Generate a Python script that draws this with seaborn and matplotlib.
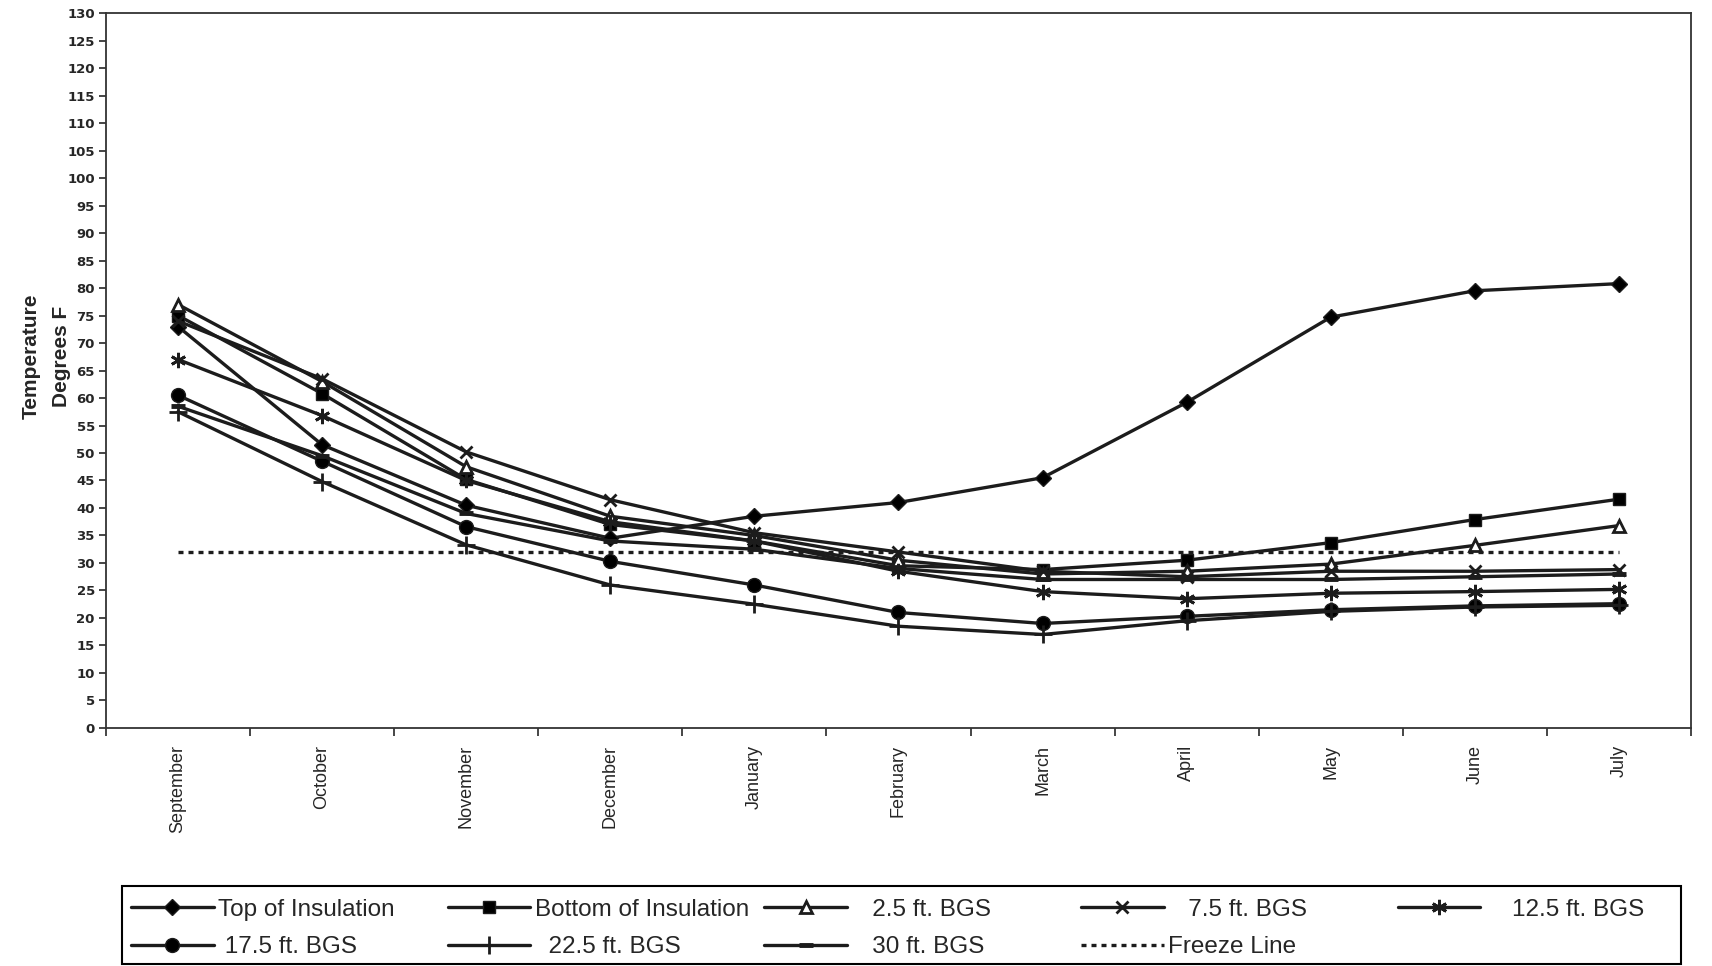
import matplotlib
matplotlib.use('Agg')
import matplotlib.pyplot as plt
from matplotlib.patches import Rectangle
import seaborn as sns
import pandas as pd

months = ['September', 'October', 'November', 'December', 'January', 'February',
          'March', 'April', 'May', 'June', 'July']

top_ins = [73, 51.5, 40.5, 34.5, 38.5, 41, 45.5, 59.2, 74.7, 79.5, 80.8]
bottom_ins = [75, 60.8, 45.2, 37, 34, 29.5, 28.8, 30.5, 33.7, 37.9, 41.6]
bgs_2_5 = [77, 63, 47.5, 38.5, 35, 30.5, 28, 28.5, 29.8, 33.2, 36.8]
bgs_7_5 = [74, 63.5, 50.2, 41.5, 35.5, 32, 28.5, 27.5, 28.5, 28.5, 28.8]
bgs_12_5 = [67, 56.8, 45, 37.5, 34, 28.5, 24.8, 23.5, 24.5, 24.8, 25.2]
bgs_17_5 = [60.5, 48.5, 36.6, 30.3, 26, 21, 19, 20.3, 21.5, 22.2, 22.6]
bgs_22_5 = [57.5, 44.8, 33.3, 26, 22.5, 18.5, 17, 19.5, 21.2, 22, 22.3]
bgs_30 = [58.5, 49.5, 39, 34, 32.5, 29, 27, 27, 27, 27.5, 28]
freeze = [32, 32, 32, 32, 32, 32, 32, 32, 32, 32, 32]

labels = ['Top of Insulation', 'Bottom of Insulation', '   2.5 ft. BGS', '   7.5 ft. BGS',
          '    12.5 ft. BGS', ' 17.5 ft. BGS', '  22.5 ft. BGS', '   30 ft. BGS']
values = [top_ins, bottom_ins, bgs_2_5, bgs_7_5, bgs_12_5, bgs_17_5, bgs_22_5, bgs_30]
# marker, size, face colour, edge width
styles = [('D', 8, 'k', 1), ('s', 9, 'k', 1), ('^', 9, 'white', 2), ('x', 9, 'k', 2),
          ((6, 2, 0), 11, 'k', 2), ('o', 10, 'k', 1), ('+', 13, 'k', 2), ('_', 10, 'k', 3.5)]

sns.set_style('white')
plt.rcParams['font.family'] = ['Liberation Sans', 'DejaVu Sans']

ink = '#1c1c1c'
fig = plt.figure(figsize=(17.12, 9.66), dpi=100)
ax = fig.add_axes([0.0619, 0.2464, 0.9258, 0.7401])

for lab, vals, (mk, ms, fc, mew) in zip(labels, values, styles):
    sns.lineplot(x=months, y=vals, ax=ax, sort=False, color=ink, lw=2.4,
                 marker=mk, markersize=ms, markerfacecolor=fc,
                 markeredgecolor=ink, markeredgewidth=mew, label=lab)
sns.lineplot(x=months, y=freeze, ax=ax, sort=False, color=ink, lw=2.4,
             linestyle=(0, (1.5, 1.5)), label='Freeze Line')

ax.set_xlim(-0.5, 10.5)
ax.set_ylim(0, 130)
ax.set_yticks(range(0, 131, 5))
ax.set_xticks(range(len(months)))
ax.set_xticklabels(months, rotation=90)
ax.set_xticks([i - 0.5 for i in range(len(months) + 1)], minor=True)
ax.tick_params(axis='x', which='major', length=0, pad=12, labelsize=13)
ax.tick_params(axis='x', which='minor', length=6, width=1.2, direction='out', bottom=True)
ax.tick_params(axis='y', length=5, width=1.2, direction='out', left=True, labelsize=9.5, pad=3)
for t in ax.get_yticklabels():
    t.set_fontfamily('DejaVu Sans')
    t.set_fontweight('bold')
ax.set_xlabel('')
ax.set_ylabel('Temperature\nDegrees F', fontsize=15, fontweight='bold', linespacing=1.75)
ax.yaxis.set_label_coords(-0.022, 0.52)
for sp in ax.spines.values():
    sp.set_color('#333333')
    sp.set_linewidth(1.3)

# legend: Excel-style box with five evenly spaced columns, filled row by row
handles, labs = ax.get_legend_handles_labels()
if ax.get_legend() is not None:
    ax.get_legend().remove()
fig.add_artist(Rectangle((0.0713, 0.002), 0.9107, 0.0807, transform=fig.transFigure,
                         fill=False, edgecolor='black', linewidth=1.5))
col_x = [0.0765, 0.2615, 0.4465, 0.6314, 0.8164]
columns = [[0, 5], [1, 6], [2, 7], [3, 8], [4]]
for x, idx in zip(col_x, columns):
    fig.legend([handles[i] for i in idx], [labs[i] for i in idx],
               loc='upper left', bbox_to_anchor=(x, 0.0698), frameon=False,
               fontsize=17.5, handlelength=3.4, handletextpad=0.2, borderaxespad=0,
               labelspacing=0.65, borderpad=0)

fig.savefig('out.png', dpi=100, facecolor='white')
